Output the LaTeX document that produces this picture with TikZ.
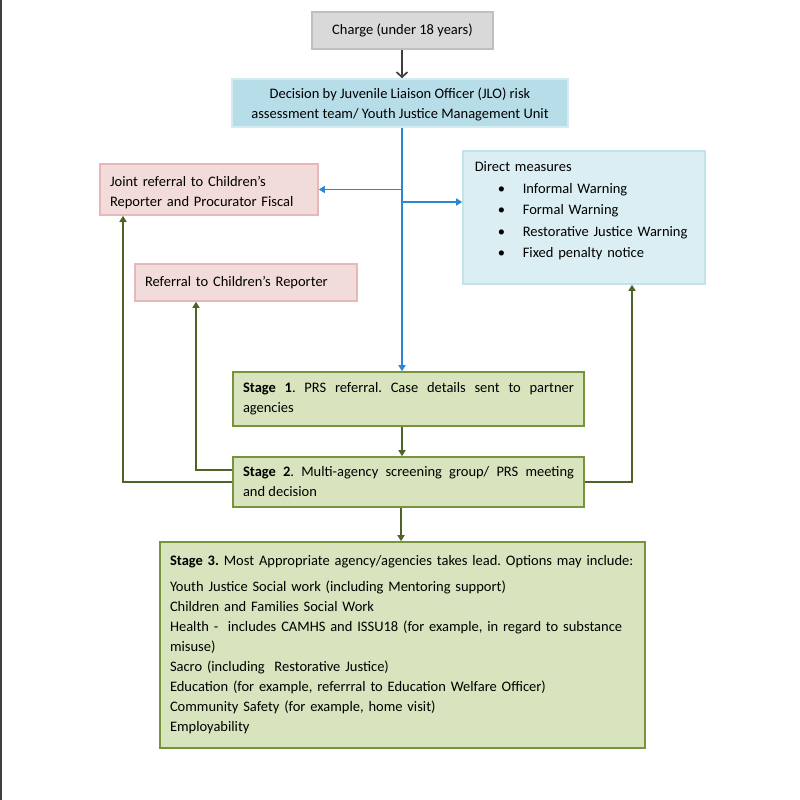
\documentclass[tikz,border=0pt]{standalone}
\usepackage{fontspec}
\setmainfont{Carlito}
\usetikzlibrary{arrows.meta}

\definecolor{chargefill}{HTML}{D9D9D9}
\definecolor{chargeline}{HTML}{BFBFBF}
\definecolor{jlofill}{HTML}{B7DEE8}
\definecolor{jloline}{HTML}{D5EBF2}
\definecolor{pinkfill}{HTML}{F2DCDB}
\definecolor{pinkline}{HTML}{E6B9B8}
\definecolor{directfill}{HTML}{DBEEF4}
\definecolor{directline}{HTML}{C2E2EC}
\definecolor{stagefill}{HTML}{D7E4BD}
\definecolor{stageline}{HTML}{77933C}
\definecolor{bluearrow}{HTML}{2C86D3}
\definecolor{greenarrow}{HTML}{4F6228}
\definecolor{greyarrow}{HTML}{404040}

\tikzset{
  box/.style={line width=1.6pt, inner xsep=10pt, inner ysep=0pt, font=\fontsize{14.5}{20}\selectfont\frenchspacing},
  chargebox/.style={box, fill=chargefill, draw=chargeline},
  jlobox/.style={box, fill=jlofill, draw=jloline},
  pinkbox/.style={box, fill=pinkfill, draw=pinkline},
  directbox/.style={box, fill=directfill, draw=directline},
  stagebox/.style={box, fill=stagefill, draw=stageline},
  greyflow/.style={draw=greyarrow, line width=1.7pt, -{Straight Barb[length=5pt,width=11pt]}},
  blueflow/.style={draw=bluearrow, line width=1.7pt, -{Triangle[length=6pt,width=7pt]}},
  greenflow/.style={draw=greenarrow, line width=1.7pt, -{Triangle[length=6pt,width=7pt]}}
}

\begin{document}
\begin{tikzpicture}[x=1pt,y=-1pt]
  \useasboundingbox (0,0) rectangle (800,800);
  \fill[white] (0,0) rectangle (800,800);
  \fill[black!75] (0,0) rectangle (2,800);

  \node (charge) at (402.5,30.5) [chargebox,minimum width=181pt,minimum height=37pt] {Charge (under 18 years)};
  \node (decision) at (400,103) [jlobox,minimum width=336pt,minimum height=48pt,align=center]
    {\rule{0pt}{14pt}Decision by Juvenile Liaison Officer (JLO) risk\\assessment team/ Youth Justice Management Unit};
  \node (joint) at (209,189.5) [pinkbox,minimum width=218pt,minimum height=51pt,text width=198pt,align=left]
    {\rule{0pt}{16pt}Joint referral to Children’s\\Reporter and Procurator Fiscal};
  \node (refer) at (246,282.5) [pinkbox,minimum width=222pt,minimum height=37pt,text width=202pt,align=left]
    {Referral to Children’s Reporter};
  \node (direct) at (584,217.5) [directbox,minimum width=242pt,minimum height=133pt] {};
  \node (directtext) [anchor=north west,box,inner sep=0pt,text width=225pt,align=left] at (474,161)
    {Direct measures\\[1.5pt]
     \makebox[48pt][l]{\hspace{23pt}\textbullet}Informal Warning\\[1.5pt]
     \makebox[48pt][l]{\hspace{23pt}\textbullet}Formal Warning\\[1.5pt]
     \makebox[48pt][l]{\hspace{23pt}\textbullet}Restorative Justice Warning\\[1.5pt]
     \makebox[48pt][l]{\hspace{23pt}\textbullet}Fixed penalty notice};
  \node (stage1) at (408.5,399) [stagebox,minimum width=351pt,minimum height=54pt,text width=331pt,align=justify]
    {\textbf{Stage 1}. PRS referral. Case details sent to partner\linebreak agencies};
  \node (stage2) at (408.5,482) [stagebox,minimum width=351pt,minimum height=50pt,text width=331pt,align=justify]
    {\textbf{Stage 2}. Multi-agency screening group/ PRS meeting\linebreak and decision};
  \node (stage3) at (402.5,645) [stagebox,minimum width=485pt,minimum height=206pt,text width=465pt,align=left]
    {\textbf{Stage 3.} Most Appropriate agency/agencies takes lead. Options may include:\\[6pt]
     Youth Justice Social work (including Mentoring support)\\
     Children and Families Social Work\\
     Health -\ \ includes CAMHS and ISSU18 (for example, in regard to substance\\
     misuse)\\
     Sacro (including\ \ Restorative Justice)\\
     Education (for example, referrral to Education Welfare Officer)\\
     Community Safety (for example, home visit)\\
     Employability};

  % connectors
  \coordinate (trunk) at (402,0);
  \coordinate (tap) at (402,202);
  \coordinate (innerleg) at (196,470);
  \coordinate (outerleg) at (123,482);
  \coordinate (rightleg) at (632,482);
  \draw[greyflow] (charge.south -| trunk) -- (decision.north -| trunk);
  \draw[blueflow] (decision.south -| trunk) -- (stage1.north -| trunk);
  \draw[blueflow] (trunk |- joint.east) -- (joint.east);
  \draw[blueflow] (tap) -- (tap -| direct.west);
  \draw[greenflow] (stage1.south -| trunk) -- (stage2.north -| trunk);
  \draw[greenflow] ([xshift=-1pt]stage2.south -| trunk) -- ([xshift=-1pt]stage3.north -| trunk);
  \draw[greenflow] (innerleg -| stage2.west) -- (innerleg) -- (innerleg |- refer.south);
  \draw[greenflow] (stage2.west) -- (outerleg) -- (outerleg |- joint.south);
  \draw[greenflow] (stage2.east) -- (rightleg) -- (rightleg |- direct.south);
\end{tikzpicture}
\end{document}
